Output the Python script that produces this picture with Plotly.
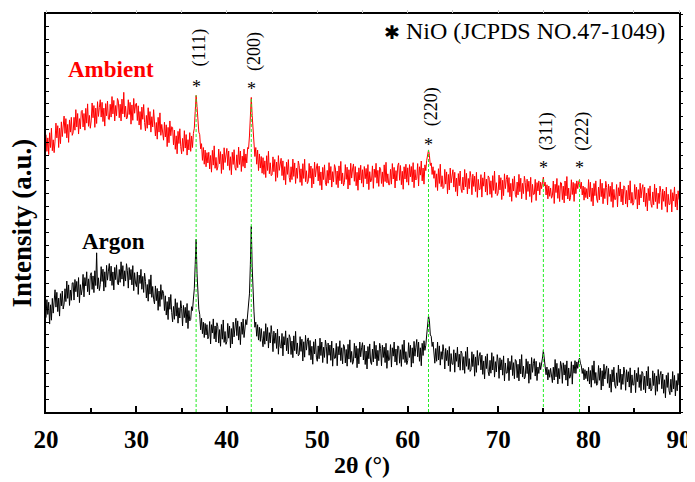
import numpy as np
import plotly.graph_objects as go

# Ambient (red) pattern, 2-theta = 20.0 ... 90.0 in 0.1 degree steps
ambient = [
    2160, 2030, 2135, 2005, 2175, 2060, 2210, 2035, 2120, 2020,
    2110, 2250, 2135, 2230, 2060, 2210, 2090, 2260, 2145, 2215,
    2305, 2170, 2285, 2135, 2240, 2100, 2275, 2180, 2295, 2155,
    2175, 2295, 2195, 2355, 2220, 2325, 2165, 2285, 2205, 2340,
    2350, 2220, 2325, 2195, 2365, 2250, 2400, 2225, 2310, 2210,
    2267, 2407, 2292, 2387, 2217, 2367, 2247, 2417, 2302, 2372,
    2432, 2297, 2412, 2262, 2367, 2227, 2402, 2307, 2422, 2282,
    2277, 2397, 2297, 2457, 2322, 2427, 2267, 2387, 2307, 2442,
    2422, 2292, 2397, 2267, 2437, 2322, 2490, 2297, 2382, 2282,
    2292, 2432, 2317, 2412, 2242, 2392, 2272, 2442, 2327, 2397,
    2405, 2270, 2385, 2235, 2340, 2200, 2375, 2280, 2395, 2255,
    2190, 2310, 2210, 2370, 2235, 2340, 2180, 2300, 2220, 2355,
    2280, 2150, 2255, 2125, 2295, 2180, 2330, 2155, 2240, 2140,
    2117, 2257, 2142, 2237, 2067, 2217, 2097, 2267, 2152, 2222,
    2216, 2081, 2196, 2046, 2151, 2011, 2186, 2091, 2206, 2066,
    2011, 2131, 2031, 2191, 2056, 2161, 2001, 2121, 2041, 2176,
    2030, 2150, 2060, 2170, 2210, 2340, 2466, 2380, 2270, 2180,
    2160, 2050, 2090, 1960, 2060, 1930, 2040, 1910, 2020, 1940,
    2023, 1893, 1998, 1868, 2038, 1923, 2073, 1898, 1983, 1883,
    1908, 2048, 1933, 2028, 1858, 2008, 1888, 2058, 1943, 2013,
    2053, 1918, 2033, 1883, 1988, 1848, 2023, 1928, 2043, 1903,
    1883, 2003, 1903, 2063, 1928, 2033, 1873, 1993, 1913, 2048,
    1900, 2010, 1940, 2060, 2050, 2150, 2290, 2450, 2310, 2190,
    2100, 1990, 2060, 1930, 2040, 1880, 2010, 1900, 1990, 1860,
    1981, 1851, 1956, 1826, 1996, 1881, 2031, 1856, 1941, 1841,
    1847, 1987, 1872, 1967, 1797, 1947, 1827, 1997, 1882, 1952,
    1976, 1841, 1956, 1806, 1911, 1771, 1946, 1851, 1966, 1826,
    1790, 1910, 1810, 1970, 1835, 1940, 1780, 1900, 1820, 1955,
    1919, 1789, 1894, 1764, 1934, 1819, 1969, 1794, 1879, 1779,
    1796, 1936, 1821, 1916, 1746, 1896, 1776, 1946, 1831, 1901,
    1935, 1800, 1915, 1765, 1870, 1730, 1905, 1810, 1925, 1785,
    1762, 1882, 1782, 1942, 1807, 1912, 1752, 1872, 1792, 1927,
    1902, 1772, 1877, 1747, 1917, 1802, 1952, 1777, 1862, 1762,
    1787, 1927, 1812, 1907, 1737, 1887, 1767, 1937, 1822, 1892,
    1932, 1797, 1912, 1762, 1867, 1727, 1902, 1807, 1922, 1782,
    1887, 1752, 1912, 1817, 1897, 1777, 1927, 1732, 1872, 1792,
    1802, 1917, 1742, 1892, 1827, 1937, 1782, 1882, 1757, 1907,
    1895, 1780, 1870, 1755, 1925, 1795, 1945, 1785, 1855, 1770,
    1770, 1890, 1775, 1935, 1815, 1905, 1745, 1880, 1800, 1920,
    1940, 1805, 1920, 1770, 1875, 1735, 1910, 1815, 1930, 1790,
    1902, 1767, 1927, 1832, 1912, 1792, 1942, 1747, 1887, 1807,
    1820, 1935, 1760, 1910, 1845, 1955, 1800, 1900, 1775, 1925,
    1880, 1960, 1990, 2041, 2000, 1920, 1940, 1850, 1910, 1820,
    1880, 1750, 1855, 1725, 1895, 1780, 1930, 1755, 1840, 1740,
    1750, 1890, 1775, 1870, 1700, 1850, 1730, 1900, 1785, 1855,
    1887, 1752, 1867, 1717, 1822, 1682, 1857, 1762, 1877, 1737,
    1709, 1829, 1729, 1889, 1754, 1859, 1699, 1819, 1739, 1874,
    1827, 1692, 1852, 1757, 1837, 1717, 1867, 1672, 1812, 1732,
    1734, 1849, 1674, 1824, 1759, 1869, 1714, 1814, 1689, 1839,
    1826, 1696, 1801, 1671, 1841, 1726, 1876, 1701, 1786, 1686,
    1705, 1845, 1730, 1825, 1655, 1805, 1685, 1855, 1740, 1810,
    1846, 1711, 1826, 1676, 1781, 1641, 1816, 1721, 1836, 1696,
    1671, 1791, 1691, 1851, 1716, 1821, 1661, 1781, 1701, 1836,
    1788, 1653, 1813, 1718, 1798, 1678, 1828, 1633, 1773, 1693,
    1697, 1812, 1647, 1787, 1722, 1800, 1690, 1790, 1740, 1785,
    1830, 1760, 1790, 1690, 1770, 1660, 1760, 1680, 1745, 1665,
    1684, 1799, 1624, 1774, 1709, 1819, 1664, 1764, 1639, 1789,
    1784, 1654, 1759, 1629, 1799, 1684, 1834, 1659, 1744, 1644,
    1669, 1809, 1694, 1789, 1640, 1780, 1700, 1800, 1740, 1790,
    1810, 1740, 1790, 1690, 1760, 1650, 1750, 1670, 1740, 1660,
    1810, 1675, 1790, 1640, 1745, 1605, 1780, 1685, 1800, 1660,
    1632, 1752, 1652, 1812, 1677, 1782, 1622, 1742, 1662, 1797,
    1749, 1614, 1774, 1679, 1759, 1639, 1789, 1594, 1734, 1654,
    1657, 1772, 1597, 1747, 1682, 1792, 1637, 1737, 1612, 1762,
    1751, 1621, 1726, 1596, 1766, 1651, 1801, 1626, 1711, 1611,
    1632, 1772, 1657, 1752, 1582, 1732, 1612, 1782, 1667, 1737,
    1771, 1636, 1751, 1601, 1706, 1566, 1741, 1646, 1761, 1621,
    1594, 1714, 1614, 1774, 1639, 1744, 1584, 1704, 1624, 1759,
    1711, 1576, 1736, 1641, 1721, 1601, 1751, 1556, 1696, 1616,
    1618, 1733, 1558, 1708, 1643, 1753, 1598, 1698, 1573, 1723,
    1654,
]

# Argon (black) pattern, same 2-theta grid
argon = [
    735, 875, 760, 855, 685, 835, 715, 885, 770, 840,
    952, 817, 932, 782, 887, 747, 922, 827, 942, 802,
    840, 960, 860, 1020, 885, 990, 830, 950, 870, 1005,
    1007, 872, 1032, 937, 1017, 897, 1047, 852, 992, 912,
    957, 1072, 897, 1047, 982, 1092, 937, 1037, 912, 1062,
    1085, 955, 1060, 930, 1100, 985, 1240, 960, 1045, 945,
    992, 1132, 1017, 1112, 942, 1092, 972, 1142, 1027, 1097,
    1156, 1021, 1136, 986, 1091, 951, 1126, 1031, 1146, 1006,
    990, 1110, 1010, 1170, 1035, 1140, 980, 1100, 1020, 1155,
    1100, 965, 1125, 1030, 1110, 990, 1140, 945, 1085, 1005,
    976, 1091, 916, 1066, 1001, 1111, 956, 1056, 931, 1081,
    1018, 888, 993, 863, 1033, 918, 1068, 893, 978, 878,
    842, 982, 867, 962, 792, 942, 822, 992, 877, 947,
    925, 790, 905, 755, 860, 720, 895, 800, 915, 775,
    702, 822, 722, 882, 747, 852, 692, 812, 732, 867,
    805, 670, 830, 735, 815, 695, 845, 650, 790, 710,
    720, 820, 790, 880, 960, 1150, 1345, 1080, 880, 800,
    760, 640, 730, 610, 700, 580, 690, 600, 680, 570,
    590, 705, 530, 680, 615, 725, 570, 670, 545, 695,
    667, 537, 642, 512, 682, 567, 717, 542, 627, 527,
    550, 690, 575, 670, 500, 650, 530, 700, 585, 655,
    730, 595, 710, 560, 665, 525, 700, 605, 725, 580,
    640, 720, 680, 760, 800, 920, 1150, 1446, 1130, 880,
    780, 660, 700, 590, 680, 560, 660, 550, 650, 570,
    508, 628, 528, 688, 553, 658, 498, 618, 538, 673,
    605, 470, 630, 535, 615, 495, 645, 450, 590, 510,
    497, 612, 437, 587, 522, 632, 477, 577, 452, 602,
    578, 448, 553, 423, 593, 478, 628, 453, 538, 438,
    447, 587, 472, 567, 397, 547, 427, 597, 482, 552,
    577, 442, 557, 407, 512, 372, 547, 452, 567, 427,
    395, 515, 415, 575, 440, 545, 385, 505, 425, 560,
    512, 377, 537, 442, 522, 402, 552, 357, 497, 417,
    420, 535, 360, 510, 445, 555, 400, 500, 375, 525,
    512, 382, 487, 357, 527, 412, 562, 387, 472, 372,
    395, 535, 420, 515, 345, 495, 375, 545, 430, 500,
    540, 405, 520, 370, 475, 335, 510, 415, 530, 390,
    370, 490, 390, 550, 415, 520, 360, 480, 400, 535,
    495, 360, 520, 425, 505, 385, 535, 340, 480, 400,
    410, 525, 350, 500, 435, 545, 390, 490, 365, 515,
    510, 380, 485, 355, 525, 410, 560, 385, 470, 370,
    400, 540, 425, 520, 350, 500, 380, 550, 435, 505,
    565, 430, 545, 395, 500, 360, 535, 440, 555, 480,
    520, 600, 680, 750, 710, 600, 590, 510, 545, 470,
    380, 495, 395, 545, 405, 515, 365, 470, 410, 525,
    470, 335, 495, 400, 480, 360, 510, 315, 455, 375,
    370, 485, 310, 460, 395, 505, 350, 450, 325, 475,
    456, 326, 431, 301, 471, 356, 506, 331, 416, 316,
    329, 469, 354, 449, 279, 429, 309, 479, 364, 434,
    463, 328, 443, 293, 398, 258, 433, 338, 453, 313,
    282, 402, 302, 462, 327, 432, 272, 392, 312, 447,
    397, 262, 422, 327, 407, 287, 437, 242, 382, 302,
    304, 419, 244, 394, 329, 439, 284, 384, 259, 409,
    397, 267, 372, 242, 412, 297, 447, 272, 357, 257,
    274, 414, 299, 394, 224, 374, 254, 424, 309, 379,
    415, 280, 395, 245, 350, 300, 385, 330, 400, 420,
    480, 400, 330, 290, 350, 250, 330, 270, 340, 255,
    229, 349, 249, 409, 274, 379, 219, 339, 259, 394,
    358, 223, 383, 288, 368, 248, 398, 203, 343, 263,
    277, 392, 217, 367, 302, 400, 300, 390, 340, 400,
    420, 380, 360, 300, 340, 250, 330, 260, 320, 240,
    348, 218, 323, 193, 363, 248, 398, 223, 308, 208,
    222, 362, 247, 342, 172, 322, 202, 372, 257, 327,
    359, 224, 339, 189, 294, 154, 329, 234, 349, 209,
    185, 305, 205, 365, 230, 335, 175, 295, 215, 350,
    304, 169, 329, 234, 314, 194, 344, 149, 289, 209,
    211, 326, 151, 301, 236, 346, 191, 291, 166, 316,
    304, 174, 279, 149, 319, 204, 354, 179, 264, 164,
    181, 321, 206, 301, 131, 281, 161, 331, 216, 286,
    316, 181, 296, 146, 251, 111, 286, 191, 306, 166,
    135, 255, 155, 315, 180, 285, 125, 245, 165, 300,
    209,
]

assert len(ambient) == 701 and len(argon) == 701
two_theta = np.round(np.linspace(20.0, 90.0, 701), 1)

peak_pos = [36.6, 42.7, 62.3, 75.0, 79.0]
peak_hkl = ["(111)", "(200)", "(220)", "(311)", "(222)"]
star_y = [2551, 2543, 2103, 1925, 1925]
hkl_y = [2794, 2760, 2331, 2141, 2141]

SERIF = "Liberation Serif, Times New Roman, serif"

fig = go.Figure()
fig.add_trace(go.Scatter(x=two_theta, y=ambient, mode="lines",
                         line=dict(color="#ff0000", width=1), showlegend=False))
fig.add_trace(go.Scatter(x=two_theta, y=argon, mode="lines",
                         line=dict(color="#000000", width=1), showlegend=False))
# invisible carrier so the top/right overlay axes (their own tick styles) get drawn
fig.add_trace(go.Scatter(x=two_theta[:1], y=argon[:1], mode="markers",
                         xaxis="x2", yaxis="y2",
                         marker=dict(opacity=0), showlegend=False, hoverinfo="skip"))

for p in peak_pos:
    idx = int(np.argmin(np.abs(two_theta - p)))
    fig.add_trace(go.Scatter(x=[p, p], y=[0, ambient[idx]], mode="lines",
                             line=dict(color="#22ee22", width=1, dash="3px,2px"),
                             showlegend=False, hoverinfo="skip"))

for p, hkl, ys, yh in zip(peak_pos, peak_hkl, star_y, hkl_y):
    fig.add_annotation(x=p, y=ys, xref="x", yref="y", text="*",
                       showarrow=False, xanchor="center", yanchor="middle", yshift=-3,
                       font=dict(family=SERIF, size=18, color="black"))
    fig.add_annotation(x=p, y=yh, xref="x", yref="y", text=hkl,
                       textangle=-90, showarrow=False, xanchor="center",
                       yanchor="middle", xshift=3, yshift=6,
                       font=dict(family=SERIF, size=18, color="black"))

fig.add_annotation(x=(668 - 46) / 634, y=(412 - 28) / 401, xref="paper", yref="paper",
                   text='<span style="font-size:19px">✱</span> NiO (JCPDS NO.47-1049)',
                   showarrow=False, xanchor="right", yanchor="middle",
                   font=dict(family=SERIF, size=24, color="black"))
fig.add_annotation(x=(111 - 46) / 634, y=(412 - 67) / 401, xref="paper", yref="paper",
                   text="<b>Ambient</b>", showarrow=False,
                   xanchor="center", yanchor="middle",
                   font=dict(family=SERIF, size=23, color="#ff0000"))
fig.add_annotation(x=(114 - 46) / 634, y=(412 - 240) / 401, xref="paper", yref="paper",
                   text="<b>Argon</b>", showarrow=False,
                   xanchor="center", yanchor="middle",
                   font=dict(family=SERIF, size=23, color="black"))
fig.add_annotation(x=(22 - 46) / 634, y=(412 - 222) / 401, xref="paper", yref="paper",
                   text="<b>Intensity (a.u.)</b>", showarrow=False, textangle=-90,
                   xanchor="center", yanchor="middle",
                   font=dict(family=SERIF, size=27, color="black"))
fig.add_annotation(x=(362 - 46) / 634, y=(412 - 465) / 401, xref="paper", yref="paper",
                   text="<b>2θ (°)</b>", showarrow=False,
                   xanchor="center", yanchor="middle",
                   font=dict(family=SERIF, size=24, color="black"))

# the page adds an 8px body margin, so the figure starts at (8, 8)
fig.update_layout(
    width=687, height=474,
    margin=dict(l=38, r=15, t=3, b=70),
    paper_bgcolor="white", plot_bgcolor="white",
    showlegend=False,
    font=dict(family=SERIF, color="black"),
    xaxis=dict(
        range=[20, 90], dtick=10, tick0=20, showgrid=False, zeroline=False,
        showline=True, linecolor="black", linewidth=2, mirror=True,
        ticks="inside", ticklen=6, tickwidth=2, tickcolor="black",
        minor=dict(dtick=5, ticks="inside", ticklen=4, tickwidth=2, tickcolor="black"),
        ticklabelstandoff=4,
        tickfont=dict(family=SERIF, size=25, color="black", weight="bold")),
    xaxis2=dict(overlaying="x", side="top", range=[20, 90], dtick=5, tick0=20,
                ticks="outside", ticklen=3, tickwidth=1, tickcolor="#c8c8c8",
                showticklabels=False, showline=False, showgrid=False, zeroline=False),
    yaxis=dict(range=[0, 3100], dtick=100, showgrid=False, zeroline=False,
               showline=True, linecolor="black", linewidth=2, mirror=True,
               ticks="inside", ticklen=3, tickwidth=1, tickcolor="black",
               showticklabels=False),
    yaxis2=dict(overlaying="y", side="right", range=[0, 3100], dtick=100,
                ticks="outside", ticklen=3, tickwidth=1, tickcolor="black",
                showticklabels=False, showline=False, showgrid=False, zeroline=False),
)

fig.write_html("out.html")
